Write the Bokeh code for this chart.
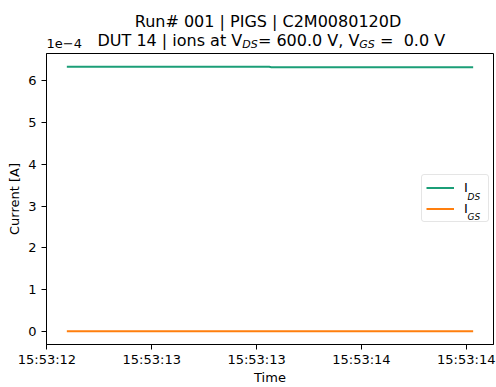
from bokeh.plotting import figure
from bokeh.layouts import column
from bokeh.models import (Range1d, FixedTicker, Label, Legend, LegendItem,
                          CustomJSTickFormatter)
from bokeh.embed import file_html
from bokeh.resources import INLINE

# ---- data ----
time_s = [12.095, 13.06, 13.07, 14.033]          # seconds after 15:53:00
i_ds = [6.34e-4, 6.34e-4, 6.33e-4, 6.33e-4]      # A
i_gs = [0.0, 0.0, 0.0, 0.0]                      # A
x_tick_vals = [12.0, 12.5, 13.0, 13.5, 14.0]
x_tick_labels = ["15:53:12", "15:53:13", "15:53:13", "15:53:14", "15:53:14"]
y_tick_vals = [0.0, 1e-4, 2e-4, 3e-4, 4e-4, 5e-4, 6e-4]
y_tick_labels = ["0", "1", "2", "3", "4", "5", "6"]
y_offset_text = "1e\u22124"
title_line1 = "Run# 001 | PIGS | C2M0080120D"
title_parts = ["DUT 14 | ions at V", "DS", "= 600.0 V, V", "GS", "\u00a0=\u00a0\u00a00.0 V"]
legend_subs = ["DS", "GS"]
colors = ["#1b9e77", "#ff7f0e"]

FONT = "DejaVu Sans"
TOP_H = 52
# the column aligns the title strip's frame with the main frame (left edge at 46 px)
DX = -46
DY = 5

# ---- title strip ----
t = figure(width=496, height=TOP_H, output_backend="svg", toolbar_location=None,
           x_axis_type=None, y_axis_type=None,
           min_border_left=0, min_border_right=0, min_border_top=0, min_border_bottom=0,
           x_range=Range1d(0, 496), y_range=Range1d(0, TOP_H))
t.grid.visible = False
t.outline_line_color = None

def lab(fig, x, baseline, text, size, style="normal", align="left"):
    fig.add_layout(Label(x=x + DX, y=TOP_H - baseline + DY, x_units="screen", y_units="screen",
                         text=text, text_font=FONT, text_font_size=size,
                         text_font_style=style, text_align=align,
                         text_baseline="alphabetic", text_color="black"))

lab(t, 267.5, 26, title_line1, "16px", align="center")
xs = [97, 241.7, 257.4, 358.8, 374.5]
for i, part in enumerate(title_parts):
    sub = (i % 2 == 1)
    lab(t, xs[i], 48.5 if sub else 45, part,
        "11px" if sub else "16px", "italic" if sub else "normal")
lab(t, 46, 48, y_offset_text, "13px")

# ---- main plot ----
p = figure(width=496, height=387 - TOP_H, output_backend="svg", toolbar_location=None,
           min_border_left=46, min_border_right=3, min_border_top=1,
           min_border_bottom=43,
           x_range=Range1d(11.998, 14.13), y_range=Range1d(-0.317e-4, 6.657e-4))
p.grid.visible = False
p.outline_line_color = "black"
p.outline_line_width = 1

r1 = p.line(time_s, i_ds, line_color=colors[0], line_width=2)
r2 = p.line(time_s, i_gs, line_color=colors[1], line_width=2)

fmt_code = """
let b = 0;
for (let i = 0; i < vals.length; i++) {
  if (Math.abs(vals[i] - tick) < Math.abs(vals[b] - tick)) b = i;
}
return labels[b];
"""
p.xaxis.ticker = FixedTicker(ticks=x_tick_vals)
p.xaxis.formatter = CustomJSTickFormatter(args=dict(vals=x_tick_vals, labels=x_tick_labels), code=fmt_code)
p.yaxis.ticker = FixedTicker(ticks=y_tick_vals)
p.yaxis.formatter = CustomJSTickFormatter(args=dict(vals=y_tick_vals, labels=y_tick_labels), code=fmt_code)

for ax in (p.xaxis[0], p.yaxis[0]):
    ax.axis_line_color = "black"
    ax.major_tick_line_color = "black"
    ax.major_tick_out = 5
    ax.major_tick_in = 0
    ax.minor_tick_line_color = None
    ax.major_label_text_font = FONT
    ax.major_label_text_font_size = "13px"
    ax.major_label_text_color = "black"
    ax.axis_label_text_font = FONT
    ax.axis_label_text_font_size = "13px"
    ax.axis_label_text_font_style = "normal"
    ax.axis_label_text_color = "black"

p.xaxis.major_label_standoff = 2
p.xaxis.axis_label = "Time"
p.xaxis.axis_label_standoff = 0
p.yaxis.major_label_standoff = 5
p.yaxis.axis_label = "Current [A]"
p.yaxis.axis_label_standoff = 3

legend = Legend(items=[LegendItem(label="I", renderers=[r1]),
                       LegendItem(label="I", renderers=[r2])],
                location=(375, 122), padding=4, spacing=4, margin=0,
                glyph_width=28, glyph_height=17, label_standoff=10, label_width=20,
                label_height=17, label_text_font=FONT, label_text_font_size="13px",
                label_text_color="black",
                border_line_color="#cccccc", border_line_width=1, border_radius=3,
                background_fill_color=None)
p.add_layout(legend)

for j, s in enumerate(legend_subs):
    p.add_layout(Label(x=421, y=148 - 20.5 * j, x_units="screen", y_units="screen", text=s,
                       text_font=FONT, text_font_size="9px", text_font_style="italic",
                       text_align="left", text_baseline="alphabetic", text_color="black"))

layout = column(t, p, spacing=0)
open("out.html", "w").write(file_html(layout, INLINE))
